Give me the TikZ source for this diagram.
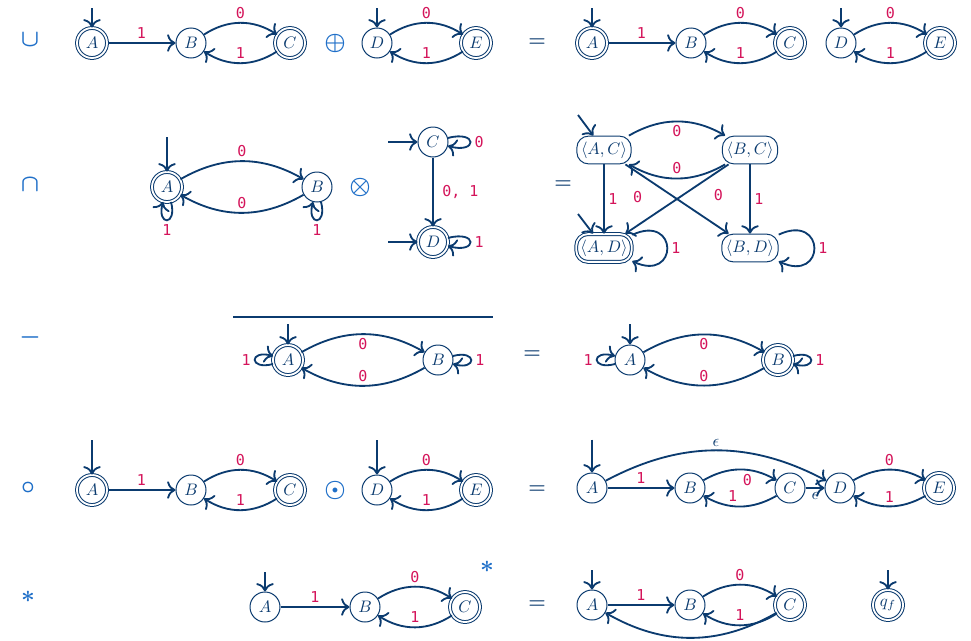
\documentclass[tikz,border=0pt]{standalone}
\usepackage{fontspec}
\usepackage{xcolor}
\usepackage{tikz}
\usetikzlibrary{arrows, arrows.meta, positioning}

\newfontfamily\lblfont{DejaVu Sans Mono}
\definecolor{navy}{HTML}{0B3B6F}
\definecolor{crimson}{HTML}{D4145A}
\definecolor{opblue}{HTML}{1F6FC8}

\begin{document}
\begin{tikzpicture}[x=0.6pt, y=-0.6pt, on grid, node distance=59.4pt]
\tikzstyle{stnode} = [circle, draw=navy, line width=0.6pt, minimum size=18pt, inner sep=0pt, text=navy]
\tikzstyle{finnode} = [stnode, double, double distance=1.1pt]
\tikzstyle{pairbox} = [rectangle, rounded corners=7pt, draw=navy, line width=0.6pt, minimum height=15.6pt, inner xsep=2.5pt, text=navy]
\tikzstyle{arrow} = [draw=navy, line width=1.1pt, ->, >={To[scale=1.25]}]
\tikzstyle{lbl} = [font=\lblfont\small, text=crimson, inner sep=2pt]
\tikzstyle{epslbl} = [text=navy, inner sep=2pt]
\tikzstyle{opsym} = [font=\Large\boldmath, text=opblue]
\tikzstyle{eqsym} = [font=\large\boldmath, text=navy]
\tikzstyle{loopy} = [min distance=6.5mm]
\tikzstyle{wideloop} = [out=25, in=-25, looseness=5, min distance=0pt]

\useasboundingbox (0,0) rectangle (971,640);

% union
\node (opU) [opsym] at (30,40) {$\cup$};
\node (uA) [finnode] at (92,43) {$A$};
\node (uB) [stnode, right=of uA] {$B$};
\node (uC) [finnode, right=of uB] {$C$};
\node (opPlus) [opsym] at (335,43) {$\oplus$};
\node (uD) [stnode] at (377,43) {$D$};
\node (uE) [finnode, right=of uD] {$E$};
\node (eq1) [eqsym] at (537,43) {$=$};
\node (vA) [finnode] at (592,43) {$A$};
\node (vB) [stnode, right=of vA] {$B$};
\node (vC) [finnode, right=of vB] {$C$};
\node (vD) [stnode] at (841,43) {$D$};
\node (vE) [finnode, right=of vD] {$E$};
\coordinate [above=21pt of uA] (uA0);
\coordinate [above=21pt of uD] (uD0);
\coordinate [above=21pt of vA] (vA0);
\coordinate [above=21pt of vD] (vD0);

\draw [arrow] (uA0) -- (uA);
\draw [arrow] (uA) -- node[lbl, above] {1} (uB);
\draw [arrow] (uB) to[bend left=33] node[lbl, above] {0} (uC);
\draw [arrow] (uC) to[bend left=33] node[lbl, above] {1} (uB);
\draw [arrow] (uD0) -- (uD);
\draw [arrow] (uD) to[bend left=33] node[lbl, above] {0} (uE);
\draw [arrow] (uE) to[bend left=33] node[lbl, above] {1} (uD);
\draw [arrow] (vA0) -- (vA);
\draw [arrow] (vA) -- node[lbl, above] {1} (vB);
\draw [arrow] (vB) to[bend left=33] node[lbl, above] {0} (vC);
\draw [arrow] (vC) to[bend left=33] node[lbl, above] {1} (vB);
\draw [arrow] (vD0) -- (vD);
\draw [arrow] (vD) to[bend left=33] node[lbl, above] {0} (vE);
\draw [arrow] (vE) to[bend left=33] node[lbl, above] {1} (vD);

% intersection
\node (opCap) [opsym] at (30,185) {$\cap$};
\node (iA) [finnode] at (167,187) {$A$};
\node (iB) [stnode, right=90pt of iA] {$B$};
\node (opTimes) [opsym] at (360,187) {$\otimes$};
\node (iC) [stnode] at (433,142) {$C$};
\node (iD) [finnode, below=60pt of iC] {$D$};
\node (eq2) [eqsym] at (563,185) {$=$};
\node (pAC) [pairbox] at (604,150) {$\langle A, C\rangle$};
\node (pBC) [pairbox, right=87.6pt of pAC] {$\langle B, C\rangle$};
\node (pAD) [pairbox, double, double distance=1.1pt, below=58.8pt of pAC] {$\langle A, D\rangle$};
\node (pBD) [pairbox, below=58.8pt of pBC] {$\langle B, D\rangle$};
\coordinate [above=30pt of iA] (iA0);
\coordinate [left=27pt of iC] (iC0);
\coordinate [left=27pt of iD] (iD0);
\coordinate (pAC0) at (578,115);
\coordinate (pAD0) at (578,214);

\draw [arrow] (iA0) -- (iA);
\draw [arrow] (iA) to[bend left=30] node[lbl, above] {0} (iB);
\draw [arrow] (iB) to[bend left=30] node[lbl, above] {0} (iA);
\draw [arrow] (iA) to[loop below] node[lbl, below] {1} (iA);
\draw [arrow] (iB) to[loop below] node[lbl, below] {1} (iB);
\draw [arrow] (iC0) -- (iC);
\draw [arrow] (iD0) -- (iD);
\draw [arrow] (iC) -- node[lbl, right=3pt] {0, 1} (iD);
\draw [arrow] (iC) to[loop right, loopy] node[lbl, right] {0} (iC);
\draw [arrow] (iD) to[loop right, loopy] node[lbl, right] {1} (iD);
\draw [arrow] (pAC0) -- (pAC);
\draw [arrow] (pAD0) -- (pAD);
\draw [arrow] (pAC) to[bend left=30] node[lbl, below] {0} (pBC);
\draw [arrow] (pBC) to[bend left=30] node[lbl, above] {0} (pAC);
\draw [arrow] (pAC) -- node[lbl, right] {1} (pAD);
\draw [arrow] (pBC) -- node[lbl, right] {1} (pBD);
\draw [arrow] (pAC) -- node[lbl, pos=0.3, below left=1pt and 6pt] {0} (pBD);
\draw [arrow] (pBC) -- node[lbl, pos=0.28, below right=1pt and 6pt] {0} (pAD);
\draw [arrow] (pAD) to[wideloop] node[lbl, right] {1} (pAD);
\draw [arrow] (pBD) to[wideloop] node[lbl, right] {1} (pBD);

% complement
\node (opMinus) [opsym] at (30,337) {$-$};
\coordinate (barL) at (233,317);
\coordinate (barR) at (493,317);
\draw [navy, line width=0.7pt] (barL) -- (barR);
\node (cA) [finnode] at (288,360) {$A$};
\node (cB) [stnode, right=90pt of cA] {$B$};
\node (eq3) [eqsym] at (532,355) {$=$};
\node (rA) [stnode] at (630,360) {$A$};
\node (rB) [finnode, right=88.8pt of rA] {$B$};
\coordinate [above=21.6pt of cA] (cA0);
\coordinate [above=21.6pt of rA] (rA0);

\draw [arrow] (cA0) -- (cA);
\draw [arrow] (cA) to[bend left=30] node[lbl, below] {0} (cB);
\draw [arrow] (cB) to[bend left=30] node[lbl, above] {0} (cA);
\draw [arrow] (cA) to[loop left] node[lbl, left] {1} (cA);
\draw [arrow] (cB) to[loop right] node[lbl, right] {1} (cB);
\draw [arrow] (rA0) -- (rA);
\draw [arrow] (rA) to[bend left=30] node[lbl, below] {0} (rB);
\draw [arrow] (rB) to[bend left=30] node[lbl, above] {0} (rA);
\draw [arrow] (rA) to[loop left] node[lbl, left] {1} (rA);
\draw [arrow] (rB) to[loop right] node[lbl, right] {1} (rB);

% concatenation
\node (opCirc) [opsym] at (28,488) {$\circ$};
\node (oA) [finnode] at (92,490) {$A$};
\node (oB) [stnode, right=of oA] {$B$};
\node (oC) [finnode, right=of oB] {$C$};
\node (opOdot) [opsym] at (335,490) {$\odot$};
\node (oD) [stnode] at (377,490) {$D$};
\node (oE) [finnode, right=of oD] {$E$};
\node (eq4) [eqsym] at (537,490) {$=$};
\node (qA) [stnode] at (592,488) {$A$};
\node (qB) [stnode, right=58.8pt of qA] {$B$};
\node (qC) [stnode, right=60pt of qB] {$C$};
\node (qD) [stnode, right=30pt of qC] {$D$};
\node (qE) [finnode, right=59.4pt of qD] {$E$};
\coordinate [above=30pt of oA] (oA0);
\coordinate [above=30pt of oD] (oD0);
\coordinate [above=29pt of qA] (qA0);

\draw [arrow] (oA0) -- (oA);
\draw [arrow] (oA) -- node[lbl, above] {1} (oB);
\draw [arrow] (oB) to[bend left=33] node[lbl, above] {0} (oC);
\draw [arrow] (oC) to[bend left=33] node[lbl, above] {1} (oB);
\draw [arrow] (oD0) -- (oD);
\draw [arrow] (oD) to[bend left=33] node[lbl, above] {0} (oE);
\draw [arrow] (oE) to[bend left=33] node[lbl, above] {1} (oD);
\draw [arrow] (qA0) -- (qA);
\draw [arrow] (qA) -- node[lbl, above] {1} (qB);
\draw [arrow] (qA) to[bend left=28] node[epslbl, above] {$\epsilon$} (qD);
\draw [arrow] (qB) to[bend left=30] node[lbl, pos=0.6, below] {0} (qC);
\draw [arrow] (qC) to[bend left=30] node[lbl, pos=0.6, above] {1} (qB);
\draw [arrow] (qC) -- node[epslbl, below] {$\epsilon$} (qD);
\draw [arrow] (qD) to[bend left=30] node[lbl, above] {0} (qE);
\draw [arrow] (qE) to[bend left=30] node[lbl, above] {1} (qD);

% Kleene star
\node (opStar) [opsym] at (28,597) {$*$};
\node (sA) [stnode] at (265,607) {$A$};
\node (sB) [stnode, right=60pt of sA] {$B$};
\node (sC) [finnode, right=60pt of sB] {$C$};
\node (opStarSup) [opsym] at (487,567) {$*$};
\node (eq5) [eqsym] at (537,605) {$=$};
\node (tA) [stnode] at (592,605) {$A$};
\node (tB) [stnode, right=58.8pt of tA] {$B$};
\node (tC) [finnode, right=60pt of tB] {$C$};
\node (tq) [finnode] at (888,605) {$q_f$};
\coordinate [above=21pt of sA] (sA0);
\coordinate [above=21pt of tA] (tA0);
\coordinate [above=21pt of tq] (tq0);

\draw [arrow] (sA0) -- (sA);
\draw [arrow] (sA) -- node[lbl, above] {1} (sB);
\draw [arrow] (sB) to[bend left=33] node[lbl, above] {0} (sC);
\draw [arrow] (sC) to[bend left=33] node[lbl, above] {1} (sB);
\draw [arrow] (tA0) -- (tA);
\draw [arrow] (tA) -- node[lbl, above] {1} (tB);
\draw [arrow] (tB) to[bend left=33] node[lbl, above] {0} (tC);
\draw [arrow] (tC) to[bend left=33] node[lbl, above] {1} (tB);
\draw [arrow] (tC) to[bend left=30] (tA);
\draw [arrow] (tq0) -- (tq);

\end{tikzpicture}
\end{document}
